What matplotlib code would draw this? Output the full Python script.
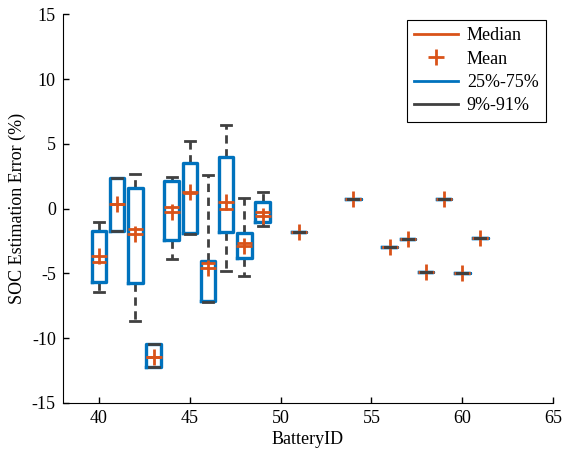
import matplotlib.pyplot as plt
from matplotlib.lines import Line2D

plt.rcParams['font.family'] = ['Liberation Serif', 'DejaVu Serif']
plt.rcParams['font.size'] = 13
plt.rcParams['axes.unicode_minus'] = False

# battery ids and percentile stats
battery = [40, 41, 42, 43, 44, 45, 46, 47, 48, 49, 51, 54, 56, 57, 58, 59, 60, 61]
p09 = [-6.42, -1.74, -8.69, -12.27, -3.92, -1.95, -7.24, -4.8, -5.19, -1.33,
       -1.81, 0.73, -2.97, -2.38, -4.88, 0.73, -4.96, -2.25]
p25 = [-5.65, -1.74, -5.78, -12.27, -2.43, -1.92, -7.12, -1.84, -3.8, -1.02,
       -1.81, 0.73, -2.97, -2.38, -4.88, 0.73, -4.96, -2.25]
median = [-4.16, 0.35, -1.55, -11.44, 0.1, 1.2, -4.2, 0.0, -2.64, -0.25,
          -1.81, 0.73, -2.97, -2.38, -4.88, 0.73, -4.96, -2.25]
mean = [-3.7, 0.35, -2.0, -11.44, -0.27, 1.25, -4.6, 0.53, -2.87, -0.55,
        -1.81, 0.73, -2.97, -2.38, -4.88, 0.73, -4.96, -2.25]
p75 = [-1.74, 2.4, 1.56, -10.49, 2.15, 3.54, -4.03, 4.0, -1.87, 0.53,
       -1.81, 0.73, -2.97, -2.38, -4.88, 0.73, -4.96, -2.25]
p91 = [-1.07, 2.4, 2.66, -10.49, 2.46, 5.24, 2.59, 6.45, 0.83, 1.3,
       -1.81, 0.73, -2.97, -2.38, -4.88, 0.73, -4.96, -2.25]

orange = '#D95319'
blue = '#0072BD'
gray = '#404040'

stats = []
for i in range(len(battery)):
    stats.append({'med': median[i], 'q1': p25[i], 'q3': p75[i],
                  'whislo': p09[i], 'whishi': p91[i], 'mean': mean[i],
                  'fliers': []})

fig = plt.figure(figsize=(5.65, 4.51), dpi=100)
ax = fig.add_axes([0.111, 0.107, 0.868, 0.861])

ax.bxp(stats, positions=battery, widths=0.8, capwidths=0.55,
       showmeans=True, manage_ticks=False,
       boxprops=dict(color=blue, linewidth=2.4, zorder=2),
       whiskerprops=dict(color=gray, linewidth=2, linestyle=(0, (3, 2)), zorder=1.5),
       capprops=dict(color=gray, linewidth=2, zorder=4),
       medianprops=dict(color=orange, linewidth=2, zorder=3),
       meanprops=dict(marker='+', markeredgecolor=orange, markersize=12,
                      markeredgewidth=2, zorder=3))

ax.set_xlim(38, 65)
ax.set_ylim(-15, 15)
ax.set_xticks(range(40, 66, 5))
ax.set_yticks(range(-15, 16, 5))
ax.tick_params(direction='in', length=4, width=1, pad=5)
ax.spines['top'].set_visible(False)
ax.spines['right'].set_visible(False)
ax.set_xlabel('BatteryID', labelpad=3)
ax.set_ylabel('SOC Estimation Error (%)', labelpad=4)

handles = [Line2D([], [], color=orange, lw=2),
           Line2D([], [], color=orange, lw=0, marker='+', markersize=12, markeredgewidth=2),
           Line2D([], [], color=blue, lw=2),
           Line2D([], [], color=gray, lw=2)]
leg = ax.legend(handles, ['Median', 'Mean', '25%-75%', '9%-91%'],
                loc='upper right', bbox_to_anchor=(0.985, 0.985),
                fancybox=False, edgecolor='black', framealpha=1,
                handlelength=2.4, handletextpad=0.5, borderpad=0.4,
                labelspacing=0.35, borderaxespad=0)
leg.get_frame().set_linewidth(0.8)

fig.savefig('out.png', dpi=100)
